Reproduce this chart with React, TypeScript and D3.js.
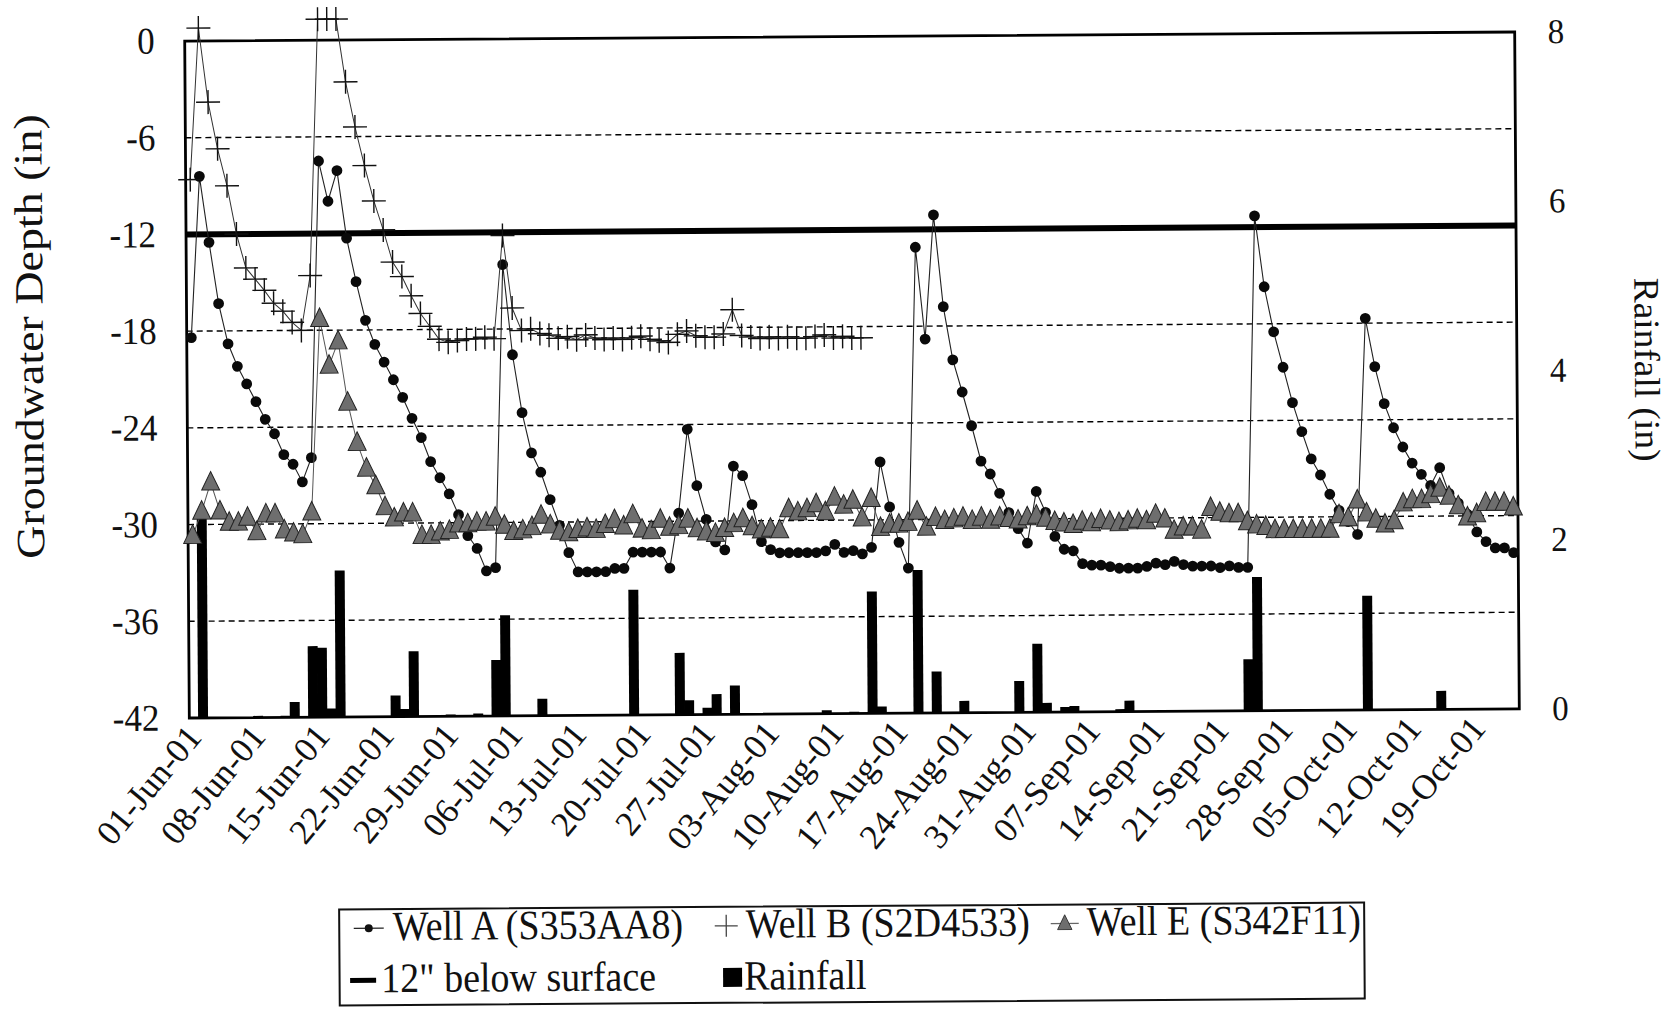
import React from "react";
import * as d3 from "d3";

// ---------- DATA (daily, 01-Jun-01 .. 23-Oct-01) ----------
const tickLabels = [
  "01-Jun-01", "08-Jun-01", "15-Jun-01", "22-Jun-01", "29-Jun-01", "06-Jul-01", "13-Jul-01",
  "20-Jul-01", "27-Jul-01", "03-Aug-01", "10-Aug-01", "17-Aug-01", "24-Aug-01", "31-Aug-01",
  "07-Sep-01", "14-Sep-01", "21-Sep-01", "28-Sep-01", "05-Oct-01", "12-Oct-01", "19-Oct-01",
];
const tickEvery = 7;

const wellA = [
  -18.4, -8.4, -12.5, -16.3, -18.8, -20.2, -21.3, -22.4, -23.5, -24.4,
  -25.7, -26.3, -27.4, -25.9, -7.5, -10.0, -8.1, -12.3, -15.0, -17.4,
  -18.9, -20.0, -21.1, -22.2, -23.5, -24.7, -26.2, -27.2, -28.2, -29.5,
  -30.8, -31.6, -33.0, -32.8, -14.0, -19.6, -23.2, -25.7, -26.9, -28.6,
  -30.2, -31.9, -33.1, -33.1, -33.1, -33.1, -32.9, -32.9, -31.9, -31.9,
  -31.9, -31.9, -32.9, -29.5, -24.3, -27.8, -29.9, -31.3, -31.8, -26.6,
  -27.2, -29.0, -31.3, -31.8, -32.0, -32.0, -32.0, -32.0, -32.0, -31.9,
  -31.5, -32.0, -31.9, -32.1, -31.7, -26.4, -29.2, -31.4, -33.0, -13.1,
  -18.8, -11.1, -16.8, -20.1, -22.1, -24.2, -26.4, -27.2, -28.4, -29.6,
  -30.6, -31.5, -28.3, -29.6, -31.1, -31.9, -32.0, -32.8, -32.9, -32.9,
  -33.0, -33.1, -33.1, -33.1, -33.0, -32.8, -32.9, -32.7, -32.9, -33.0,
  -33.0, -33.0, -33.1, -33.0, -33.1, -33.1, -11.3, -15.7, -18.5, -20.7,
  -22.9, -24.7, -26.4, -27.4, -28.6, -29.6, -30.3, -31.1, -17.7, -20.7,
  -23.0, -24.5, -25.7, -26.7, -27.4, -28.1, -27.0, -28.6, -29.2, -29.9,
  -31.0, -31.6, -32.0, -32.0, -32.3,
];

const wellB = [
  -8.6, 0.8, -3.8, -6.7, -9.0, -12.0, -14.1, -14.8, -15.5, -16.3,
  -16.8, -17.5, -18.0, -14.6, 1.3, 1.3, 1.3, -2.6, -5.4, -7.8,
  -10.0, -11.8, -13.8, -14.7, -15.9, -17.0, -17.8, -18.6, -18.8, -18.7,
  -18.6, -18.6, -18.5, -18.6, -12.2, -16.7, -18.1, -18.0, -18.3, -18.4,
  -18.6, -18.5, -18.7, -18.4, -18.6, -18.7, -18.6, -18.7, -18.6, -18.5,
  -18.7, -18.8, -18.9, -18.4, -18.2, -18.5, -18.6, -18.6, -18.4, -16.9,
  -18.5, -18.6, -18.7, -18.6, -18.7, -18.6, -18.7, -18.7, -18.6, -18.5,
  -18.7, -18.6, -18.7, -18.7,
];

const wellE = [
  -30.7, -29.2, -27.4, -29.2, -29.9, -29.9, -29.6, -30.5, -29.4, -29.4,
  -30.4, -30.6, -30.7, -29.3, -17.3, -20.2, -18.7, -22.5, -25.0, -26.6,
  -27.7, -29.0, -29.7, -29.4, -29.4, -30.8, -30.8, -30.6, -30.5, -30.1,
  -30.1, -30.0, -30.0, -29.7, -30.2, -30.6, -30.5, -30.3, -29.6, -30.2,
  -30.6, -30.7, -30.5, -30.4, -30.5, -30.2, -29.9, -30.3, -29.6, -30.5,
  -30.6, -29.9, -30.4, -30.3, -29.9, -30.5, -30.7, -30.8, -30.5, -30.2,
  -29.9, -30.4, -30.6, -30.5, -30.6, -29.3, -29.5, -29.3, -29.0, -29.5,
  -28.6, -29.1, -28.8, -29.9, -28.7, -30.5, -30.3, -30.3, -30.2, -29.5,
  -30.5, -29.9, -30.1, -30.0, -29.9, -30.1, -29.9, -30.1, -29.9, -30.0,
  -30.1, -29.9, -29.8, -30.0, -30.2, -30.3, -30.4, -30.2, -30.3, -30.1,
  -30.2, -30.3, -30.2, -30.1, -30.2, -29.8, -30.1, -30.8, -30.6, -30.6,
  -30.8, -29.4, -29.7, -29.8, -29.8, -30.3, -30.5, -30.6, -30.8, -30.8,
  -30.8, -30.8, -30.8, -30.8, -30.8, -29.9, -30.1, -29.0, -29.8, -30.2,
  -30.5, -30.3, -29.2, -29.0, -29.0, -28.7, -28.3, -28.8, -29.4, -30.1,
  -29.9, -29.2, -29.2, -29.2, -29.5,
];

const rainfall = [
  0, 2.35, 0, 0, 0, 0, 0, 0.02, 0, 0,
  0.02, 0.18, 0, 0.84, 0.82, 0.1, 1.73, 0, 0, 0,
  0, 0, 0.25, 0.09, 0.77, 0, 0, 0, 0.02, 0,
  0, 0.03, 0, 0.66, 1.19, 0, 0, 0, 0.2, 0,
  0, 0, 0, 0, 0, 0, 0, 0, 1.48, 0,
  0, 0, 0, 0.73, 0.17, 0, 0.08, 0.24, 0, 0.34,
  0, 0, 0, 0, 0, 0, 0, 0, 0, 0.04,
  0, 0, 0.02, 0, 1.44, 0.08, 0, 0, 0, 1.69,
  0, 0.49, 0, 0, 0.14, 0, 0, 0, 0, 0,
  0.37, 0, 0.81, 0.11, 0, 0.06, 0.07, 0, 0, 0,
  0, 0.03, 0.13, 0, 0, 0, 0, 0, 0, 0,
  0, 0, 0, 0, 0, 0.61, 1.58, 0, 0, 0,
  0, 0, 0, 0, 0, 0, 0, 0, 1.35, 0,
  0, 0, 0, 0, 0, 0, 0.22, 0, 0, 0,
  0, 0, 0, 0, 0,
];

const surfaceDepth = -12;
const depthTicks = [0, -6, -12, -18, -24, -30, -36, -42];
const rainTicks = [0, 2, 4, 6, 8];
const gridDepths = [-6, -12, -18, -24, -30, -36];

// ---------- LAYOUT ----------
const W = 1674;
const H = 1009;
const L = 187;
const R = 1517;
const T = 36.5;
const B = 713.5;
const FONT = "'Liberation Serif','Times New Roman',Times,serif";

function Txt(props: {
  x: number; y: number; size: number; anchor?: string; sy?: number; children: React.ReactNode;
}) {
  const { x, y, size, anchor = "start", sy = 1.1, children } = props;
  return (
    <text
      transform={`translate(${x},${y}) scale(1,${sy})`}
      fontSize={size}
      textAnchor={anchor as any}
      fill="#111"
    >
      {children}
    </text>
  );
}

const TRI = "M0,-11L9,7.5L-9,7.5Z";

export default function App() {
  const n = wellA.length;
  const x = d3.scaleBand<number>().domain(d3.range(n)).range([L, R]).padding(0);
  const bw = x.bandwidth();
  const cx = (i: number) => (x(i) as number) + bw / 2;
  const yD = d3.scaleLinear().domain([-42, 0]).range([B, T]);
  const yR = d3.scaleLinear().domain([0, 8]).range([B, T]);
  const line = d3
    .line<number>()
    .x((_, i) => cx(i))
    .y((d) => yD(d));

  return (
    <svg
      width={W}
      height={H}
      style={{ position: "fixed", left: 0, top: 0, background: "#fff" }}
      fontFamily={FONT}
    >
      <rect width={W} height={H} fill="#fff" />
      <g transform="rotate(-0.39 852 375)">
        {/* gridlines */}
        {gridDepths.map((g) => (
          <line
            key={g}
            x1={L}
            x2={R}
            y1={yD(g)}
            y2={yD(g)}
            stroke="#000"
            strokeWidth={1.4}
            strokeDasharray="6 4"
          />
        ))}
        {/* rainfall bars */}
        {rainfall.map((r, i) =>
          r > 0 ? (
            <rect
              key={i}
              x={(x(i) as number) - 0.4}
              y={yR(r)}
              width={bw + 0.8}
              height={B - yR(r)}
              fill="#000"
            />
          ) : null
        )}
        {/* plot border */}
        <rect x={L} y={T} width={R - L} height={B - T} fill="none" stroke="#000" strokeWidth={2.8} />
        {/* 12" line */}
        <line x1={L} x2={R} y1={yD(surfaceDepth)} y2={yD(surfaceDepth)} stroke="#000" strokeWidth={6} />

        {/* Well A */}
        <path d={line(wellA) || ""} fill="none" stroke="#222" strokeWidth={1.1} />
        {wellA.map((v, i) => (
          <circle key={i} cx={cx(i)} cy={yD(v)} r={5.4} fill="#0a0a0a" />
        ))}

        {/* Well B */}
        <path d={line(wellB) || ""} fill="none" stroke="#333" strokeWidth={1} />
        {wellB.map((v, i) => (
          <path
            key={i}
            d={`M${cx(i) - 12},${yD(v)}H${cx(i) + 12}M${cx(i)},${yD(v) - 12}V${yD(v) + 12}`}
            stroke="#111"
            strokeWidth={1.4}
          />
        ))}

        {/* Well E */}
        <path d={line(wellE) || ""} fill="none" stroke="#555" strokeWidth={1} />
        {wellE.map((v, i) => (
          <path
            key={i}
            d={TRI}
            transform={`translate(${cx(i)},${yD(v)})`}
            fill="#6e6e6e"
            stroke="#222"
            strokeWidth={1}
          />
        ))}

        {/* left axis labels */}
        {depthTicks.map((t) => (
          <Txt key={t} x={L - 30} y={yD(t) + 12.5} size={35} anchor="end" sy={1.08}>
            {String(t)}
          </Txt>
        ))}
        {/* right axis labels */}
        {rainTicks.map((t) => (
          <Txt key={t} x={R + 33} y={yR(t) + 11.5} size={33} anchor="start" sy={1.06}>
            {String(t)}
          </Txt>
        ))}
        {/* x labels */}
        {tickLabels.map((lab, k) => {
          const i = k * tickEvery;
          return (
            <text
              key={lab}
              transform={`translate(${cx(i) + 9},${B + 20}) rotate(-50)`}
              fontSize={35}
              textAnchor="end"
              fill="#111"
            >
              {lab}
            </text>
          );
        })}
        {/* axis titles */}
        <text
          transform={`translate(43,331) rotate(-90) scale(1.15,1)`}
          fontSize={40}
          textAnchor="middle"
          fill="#111"
        >
          Groundwater Depth (in)
        </text>
        <text
          transform={`translate(1635,375) rotate(90) scale(1.04,1)`}
          fontSize={36}
          textAnchor="middle"
          fill="#111"
        >
          Rainfall (in)
        </text>

        {/* legend */}
        <rect x={335.5} y={906} width={1025} height={96} fill="#fff" stroke="#111" strokeWidth={2} />
        <line x1={350} x2={380} y1={925} y2={925} stroke="#222" strokeWidth={1.2} />
        <circle cx={365} cy={925} r={4} fill="#111" />
        <Txt x={389} y={937} size={38}>Well A (S353AA8)</Txt>
        <path d="M711,925H734M722.5,914V936" stroke="#444" strokeWidth={1.3} />
        <Txt x={742} y={937} size={38}>Well B (S2D4533)</Txt>
        <line x1={1047} x2={1075} y1={925} y2={925} stroke="#666" strokeWidth={1.2} />
        <path d={TRI} transform="translate(1061,925) scale(0.8)" fill="#6e6e6e" stroke="#222" strokeWidth={1} />
        <Txt x={1083} y={937} size={38}>Well E (S342F11)</Txt>
        <line x1={346} x2={372} y1={977} y2={977} stroke="#000" strokeWidth={5} />
        <Txt x={377} y={989} size={38}>12" below surface</Txt>
        <rect x={719} y={967} width={19} height={19} fill="#000" />
        <Txt x={740} y={989} size={38}>Rainfall</Txt>
      </g>
    </svg>
  );
}
